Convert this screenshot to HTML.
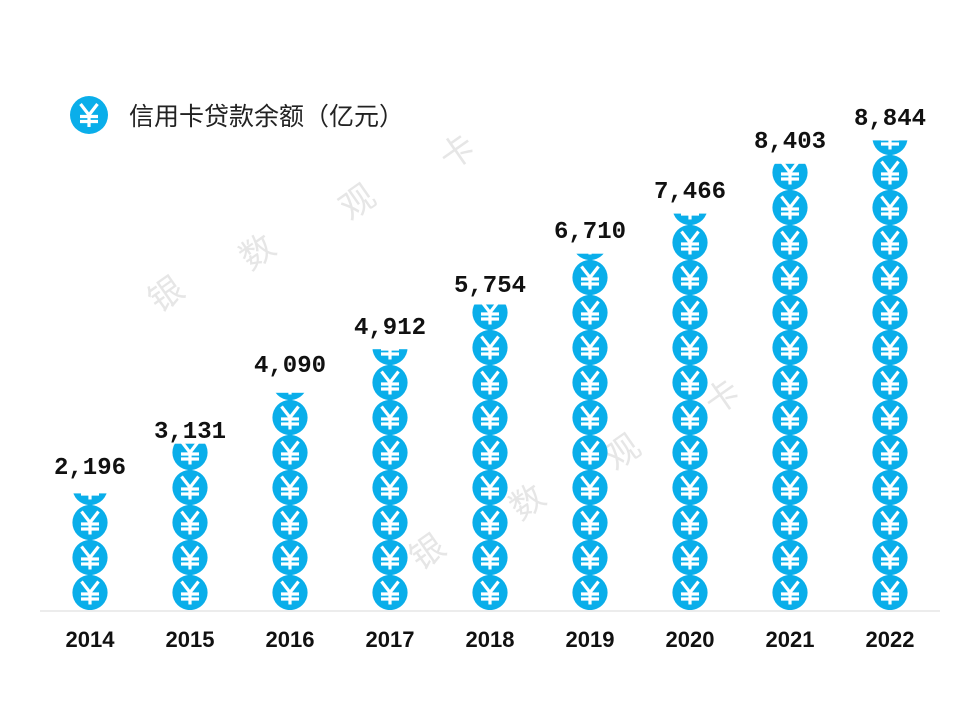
<!DOCTYPE html>
<html><head><meta charset="utf-8"><style>body{margin:0;background:#fff}svg{display:block}</style></head><body>
<svg width="960" height="720" xmlns="http://www.w3.org/2000/svg">
<defs>
<g id="yen"><path d="M-8.5,-11 L0,0 L8.5,-11 M0,0 L0,12 M-9,1.5 L9,1.5 M-9,6.5 L9,6.5" stroke="#fff" stroke-width="3.2" fill="none"/></g>
<pattern id="p" patternUnits="userSpaceOnUse" x="40" y="610" width="100" height="35">
<circle cx="50" cy="17.5" r="17.6" fill="#0aaeea"/>
<use href="#yen" x="50" y="17.5"/>
</pattern>
</defs>
<g font-family="Liberation Sans, 'Noto Sans CJK SC', sans-serif" font-size="34" fill="#e6e6e6">
<text x="150" y="310" transform="rotate(-35 160 298)">银</text>
<text x="240" y="265" transform="rotate(-35 255 252)">数</text>
<text x="340" y="215" transform="rotate(-35 355 202)">观</text>
<text x="440" y="165" transform="rotate(-35 455 152)">卡</text>
<text x="410" y="565" transform="rotate(-35 425 552)">银</text>
<text x="510" y="515" transform="rotate(-35 525 502)">数</text>
<text x="605" y="465" transform="rotate(-35 620 452)">观</text>
<text x="705" y="410" transform="rotate(-35 720 397)">卡</text>
</g>
<line x1="40" y1="611" x2="940" y2="611" stroke="#d8d8d8" stroke-width="1"/>
<circle cx="89" cy="115" r="19" fill="#0aaeea"/>
<use href="#yen" x="89" y="115"/>
<text x="129" y="125" font-family="Liberation Sans, 'Noto Sans CJK SC', sans-serif" font-size="25" fill="#222">信用卡贷款余额（亿元）</text>
<g fill="url(#p)">
<rect x="72" y="493.4" width="36" height="116.6"/>
<rect x="172" y="443.7" width="36" height="166.3"/>
<rect x="272" y="392.8" width="36" height="217.2"/>
<rect x="372" y="349.2" width="36" height="260.8"/>
<rect x="472" y="304.5" width="36" height="305.5"/>
<rect x="572" y="253.7" width="36" height="356.3"/>
<rect x="672" y="213.6" width="36" height="396.4"/>
<rect x="772" y="163.8" width="36" height="446.2"/>
<rect x="872" y="140.4" width="36" height="469.6"/>
</g>
<g font-family="Liberation Mono, monospace" font-weight="bold" font-size="24" fill="#111" text-anchor="middle">
<text x="90" y="474">2,196</text>
<text x="190" y="438">3,131</text>
<text x="290" y="372">4,090</text>
<text x="390" y="334">4,912</text>
<text x="490" y="292">5,754</text>
<text x="590" y="238">6,710</text>
<text x="690" y="198">7,466</text>
<text x="790" y="148">8,403</text>
<text x="890" y="125">8,844</text>
</g>
<g font-family="Liberation Sans, sans-serif" font-weight="bold" font-size="22" fill="#111" text-anchor="middle">
<text x="90" y="647">2014</text><text x="190" y="647">2015</text><text x="290" y="647">2016</text>
<text x="390" y="647">2017</text><text x="490" y="647">2018</text><text x="590" y="647">2019</text>
<text x="690" y="647">2020</text><text x="790" y="647">2021</text><text x="890" y="647">2022</text>
</g>
</svg>
</body></html>
